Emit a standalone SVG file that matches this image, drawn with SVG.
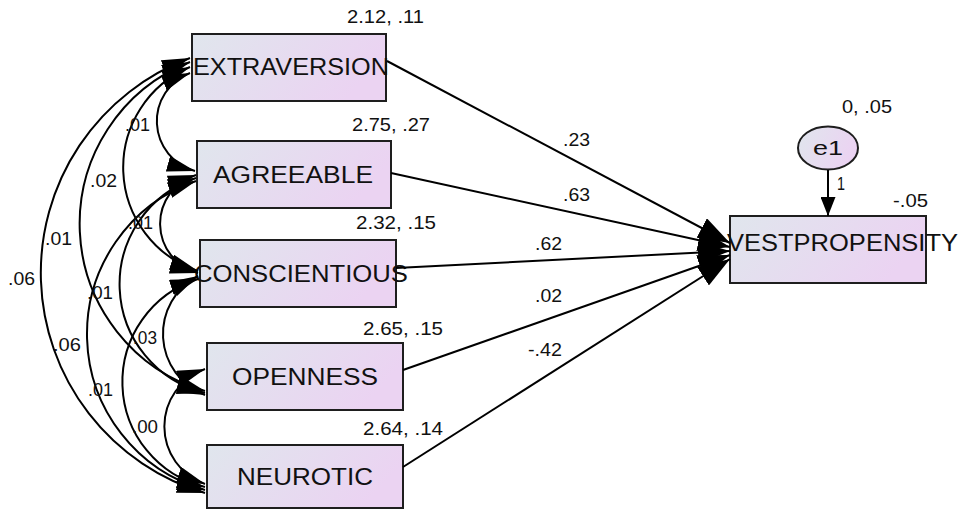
<svg xmlns="http://www.w3.org/2000/svg" width="960" height="510" viewBox="0 0 960 510">
<style>
.box{stroke:#1e1e1e;stroke-width:2;fill:url(#g)}
.nm{font-family:"Liberation Sans",Arial,sans-serif;font-size:23px;fill:#111}
.v{font-family:"Liberation Sans",Arial,sans-serif;font-size:18px;fill:#111}
.cv{fill:none;stroke:#000;stroke-width:2;marker-start:url(#ah);marker-end:url(#ah)}
.ln{fill:none;stroke:#000;stroke-width:2;marker-end:url(#ahB)}
</style>
<defs>
<linearGradient id="g" x1="0" y1="0" x2="1" y2="0.3">
<stop offset="0" stop-color="#e0e6ed"/>
<stop offset="1" stop-color="#ebd3f2"/>
</linearGradient>
<marker id="ah" markerUnits="userSpaceOnUse" viewBox="0 0 28 16" markerWidth="28" markerHeight="16" refX="28" refY="8" orient="auto-start-reverse"><path d="M0,0 L28,8 L0,16 z" fill="#000"/></marker>
<marker id="ahB" markerUnits="userSpaceOnUse" viewBox="0 0 32 22" markerWidth="32" markerHeight="22" refX="32" refY="11" orient="auto"><path d="M0,0 L32,11 L0,22 z" fill="#000"/></marker>
<marker id="ahS" markerUnits="userSpaceOnUse" viewBox="0 0 19 15" markerWidth="19" markerHeight="15" refX="19" refY="7.5" orient="auto"><path d="M0,0 L19,7.5 L0,15 z" fill="#000"/></marker>
</defs>
<rect width="960" height="510" fill="#fff"/>

<g id="extraversion">
<rect class="box" x="192" y="34" width="194" height="67"/>
<text class="nm" x="193" y="75" textLength="196" lengthAdjust="spacingAndGlyphs">EXTRAVERSION</text>
<text class="v" x="347" y="23" textLength="77" lengthAdjust="spacingAndGlyphs">2.12, .11</text>
</g>
<g id="agreeable">
<rect class="box" x="197" y="141" width="194" height="67"/>
<text class="nm" x="213" y="183" textLength="160" lengthAdjust="spacingAndGlyphs">AGREEABLE</text>
<text class="v" x="352" y="131" textLength="78" lengthAdjust="spacingAndGlyphs">2.75, .27</text>
</g>
<g id="conscientious">
<rect class="box" x="200" y="240" width="196" height="67"/>
<text class="nm" x="194" y="282" textLength="214" lengthAdjust="spacingAndGlyphs">CONSCIENTIOUS</text>
<text class="v" x="356" y="229" textLength="80" lengthAdjust="spacingAndGlyphs">2.32, .15</text>
</g>
<g id="openness">
<rect class="box" x="207" y="343" width="196" height="67"/>
<text class="nm" x="232" y="385" textLength="146" lengthAdjust="spacingAndGlyphs">OPENNESS</text>
<text class="v" x="363" y="335" textLength="80" lengthAdjust="spacingAndGlyphs">2.65, .15</text>
</g>
<g id="neurotic">
<rect class="box" x="207" y="445" width="196" height="63"/>
<text class="nm" x="237" y="485" textLength="136" lengthAdjust="spacingAndGlyphs">NEUROTIC</text>
<text class="v" x="363" y="435" textLength="80" lengthAdjust="spacingAndGlyphs">2.64, .14</text>
</g>
<g id="investpropensity">
<rect class="box" x="730" y="216" width="196" height="67"/>
<text class="nm" x="727" y="251" textLength="231" lengthAdjust="spacingAndGlyphs">VESTPROPENSITY</text>
<text class="v" x="893" y="207" textLength="35" lengthAdjust="spacingAndGlyphs">-.05</text>
</g>
<g id="e1">
<ellipse cx="828" cy="148" rx="30" ry="21.5" fill="url(#g)" stroke="#1e1e1e" stroke-width="2"/>
<text class="v" x="813" y="155" style="font-size:20px" textLength="30" lengthAdjust="spacingAndGlyphs">e1</text>
<text class="v" x="842" y="113" textLength="50" lengthAdjust="spacingAndGlyphs">0, .05</text>
</g>

<g id="connectors">
<path class="cv" d="M190,58 A229.5,229.5 0 0 0 205,493"/>
<path class="cv" d="M190,62 A174,174 0 0 0 205,391"/>
<path class="cv" d="M196,181 A162,162 0 0 0 205,490"/>
<path class="cv" d="M190,67 A109,109 0 0 0 198,271"/>
<path class="cv" d="M196,178 A112,112 0 0 0 205,393"/>
<path class="cv" d="M198,279 A108,108 0 0 0 205,487"/>
<path class="cv" d="M190,73 A51.6,51.6 0 0 0 195,171"/>
<path class="cv" d="M196,175 A51,51 0 0 0 198,273"/>
<path class="cv" d="M198,276 A65.4,65.4 0 0 0 205,395"/>
<path class="cv" d="M205,369 A61,61 0 0 0 205,484"/>
<path class="ln" d="M387,61 L730,243"/>
<path class="ln" d="M391,173 L730,247"/>
<path class="ln" d="M396,268 L730,251"/>
<path class="ln" d="M403,370 L730,255"/>
<path class="ln" d="M403,467 L730,259"/>
<path d="M828,170 L828,216" fill="none" stroke="#000" stroke-width="2" marker-end="url(#ahS)"/>
</g>

<g id="labels">
<text class="v" x="125" y="131" textLength="25" lengthAdjust="spacingAndGlyphs">.01</text>
<text class="v" x="90" y="187" textLength="27" lengthAdjust="spacingAndGlyphs">.02</text>
<text class="v" x="45" y="245" textLength="27" lengthAdjust="spacingAndGlyphs">.01</text>
<text class="v" x="8" y="285" textLength="27" lengthAdjust="spacingAndGlyphs">.06</text>
<text class="v" x="128" y="229" textLength="25" lengthAdjust="spacingAndGlyphs">.01</text>
<text class="v" x="87" y="299" textLength="26" lengthAdjust="spacingAndGlyphs">.01</text>
<text class="v" x="133" y="344" textLength="24" lengthAdjust="spacingAndGlyphs">.03</text>
<text class="v" x="53" y="351" textLength="28" lengthAdjust="spacingAndGlyphs">.06</text>
<text class="v" x="88" y="396" textLength="25" lengthAdjust="spacingAndGlyphs">.01</text>
<text class="v" x="132" y="433" textLength="26" lengthAdjust="spacingAndGlyphs">.00</text>
<text class="v" x="563" y="146" textLength="27" lengthAdjust="spacingAndGlyphs">.23</text>
<text class="v" x="563" y="201" textLength="27" lengthAdjust="spacingAndGlyphs">.63</text>
<text class="v" x="535" y="250" textLength="27" lengthAdjust="spacingAndGlyphs">.62</text>
<text class="v" x="535" y="302" textLength="27" lengthAdjust="spacingAndGlyphs">.02</text>
<text class="v" x="528" y="356" textLength="34" lengthAdjust="spacingAndGlyphs">-.42</text>
<text class="v" x="837" y="190" textLength="8" lengthAdjust="spacingAndGlyphs">1</text>
</g>
</svg>
